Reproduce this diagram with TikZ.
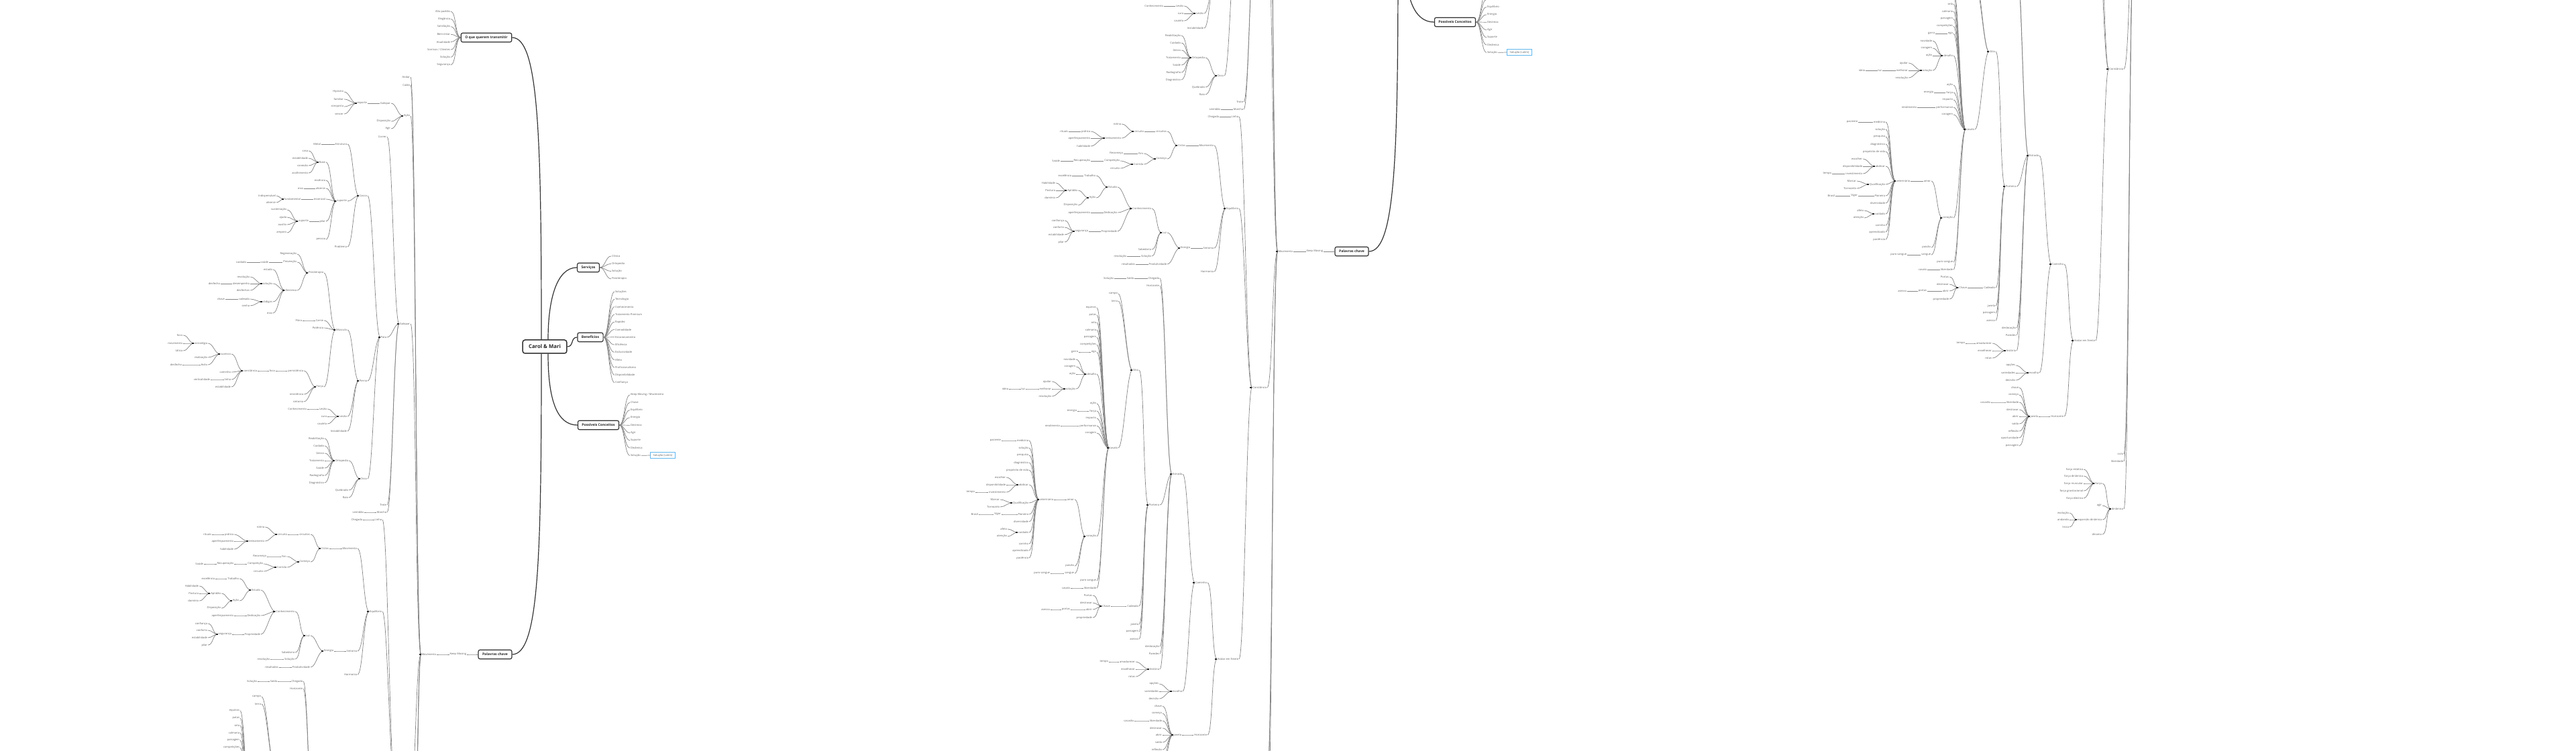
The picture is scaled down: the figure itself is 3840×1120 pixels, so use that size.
\documentclass[tikz,border=0pt]{standalone}
\usepackage{fontspec}
\setmainfont{Open Sans}
\definecolor{lblue}{HTML}{62B8EE}
\tikzset{
 mlf/.style={font=\fontsize{1.15}{1.3}\selectfont, text=black!62, inner xsep=0.1mm, inner ysep=0.05mm, outer sep=0pt},
 mcn/.style={draw=black!48, line width=0.07mm, out=0, in=180, out max distance=0.8mm, in max distance=0.8mm},
 mmain/.style={draw=black!80, line width=0.12mm},
 mhub/.style={draw=black!85, line width=0.13mm},
 mbox/.style={draw=black!80, line width=0.12mm, rounded corners=0.25mm, fill=white, font=\fontsize{1.45}{1.7}\selectfont\bfseries, text=black!85, inner xsep=0.6mm, inner ysep=0.2mm, minimum height=1.35mm},
 mroot/.style={mbox, line width=0.15mm, font=\fontsize{2.2}{2.6}\selectfont\bfseries, inner xsep=0.9mm, minimum height=2mm, rounded corners=0.35mm},
 mlat/.style={mlf, draw=lblue, line width=0.08mm, inner xsep=0.4mm, inner ysep=0.25mm}
}
\newcommand\vt[2]{\ifdim #1pt>\ylo pt\relax\ifdim #1pt<\yhi pt\relax #2\else\phantom{#2}\fi\else\phantom{#2}\fi}
\newcommand\kids[3]{\foreach \nm/\yy/\tx in {#3}{\node[mlf,anchor=east] (\nm) at (#2,\yy) {\vt{\yy}{\tx}}; \draw[mcn] (\nm.east) to (#1.west);}}
\newcommand\hub[1]{\foreach \hh in {#1}{\draw[mhub] (\hh.west) -- ++(-3,0);}}
\newcommand\drawmap{%
\node[mroot] (root) at (812,517) {\vt{517}{Carol \& Mari}};
\node[mbox] (serv) at (877,399) {\vt{399}{Serviços}};
\node[mbox] (benef) at (880,503) {\vt{503}{Benefícios}};
\node[mbox] (poss) at (892,634) {\vt{634}{Possíveis Conceitos}};
\node[mbox] (oque) at (725,56) {\vt{56}{O que querem transmitir}};
\node[mbox] (pal) at (738,976) {\vt{976}{Palavras chave}};
\draw[mmain] ([xshift=0.5mm]root.north) to[out=90,in=180,out distance=6mm,in distance=3mm] (serv.west);
\draw[mmain] (root.east) to[out=0,in=180,out distance=1mm,in distance=1mm] (benef.west);
\draw[mmain] ([xshift=0.5mm]root.south) to[out=-90,in=180,out distance=7mm,in distance=3mm] (poss.west);
\draw[mmain] ([xshift=-0.5mm]root.north) to[out=90,in=0,out distance=30mm,in distance=4mm] (oque.east);
\draw[mmain] ([xshift=-0.5mm]root.south) to[out=-90,in=0,out distance=30mm,in distance=4mm] (pal.east);
\foreach \nm/\tx [count=\i from 0] in {s1/Clínica,s2/Ortopedia,s3/Solução,s4/Fisioterapia}{\pgfmathsetmacro\yc{382+11.3*\i}\node[mlf,anchor=west] (\nm) at (911,\yc) {\vt{\yc}{\tx}}; \draw[mcn] (serv.east) to (\nm.west);}
\foreach \nm/\tx [count=\i from 0] in {b1/Soluções,b2/Tecnologia,b3/Conhecimento,b4/Tratamento Premium,b5/Rapidez,b6/Comodidade,b7/Estacionamento,b8/Eficiência,b9/Exclusividade,b10/Afeto,b11/Profissionalismo,b12/Disponibilidade,b13/Confiança}{\pgfmathsetmacro\yc{435+11.3*\i}\node[mlf,anchor=west] (\nm) at (916,\yc) {\vt{\yc}{\tx}}; \draw[mcn] (benef.east) to (\nm.west);}
\foreach \nm/\tx [count=\i from 0] in {p1/{Keep Moving / Movimento},p2/Chave,p3/Equilíbrio,p4/Energia,p5/Destreza,p6/Agir,p7/Suporte,p8/Dinâmica,p9/Solução}{\pgfmathsetmacro\yc{589+11.3*\i}\node[mlf,anchor=west] (\nm) at (939,\yc) {\vt{\yc}{\tx}}; \draw[mcn] (poss.east) to (\nm.west);}
\node[mlat] (latim) at (988,679) {\vt{679}{Solução (Latim)}};
\draw[mcn] (p9.east) -- (latim.west);
\foreach \nm/\tx [count=\i from 0] in {oq1/Alto padrão,oq2/Elegância,oq3/Satisfação,oq4/Bem-estar,oq5/Atualidade,oq6/{Sorrisos / Clientes},oq7/Solução,oq8/Segurança}{\pgfmathsetmacro\yc{17+11.4*\i}\node[mlf,anchor=east] (\nm) at (672,\yc) {\vt{\yc}{\tx}}; \draw[mcn] (\nm.east) to (oque.west);}
\kids{pal}{696}{keep/976/Keep Moving}
\kids{keep}{651}{mov/976/Movimento}
\kids{mov}{612}{andar/115/Andar, caido/127/Caído, acao/173/Ação, gal/483/Galopar, const/1179/Constância, ciclo/1753/ciclo, liber3/1764/liberdade, dinam/1835/dinâmica}
\kids{acao}{583}{galb/154/Galopar, disp1/181/Disposição, agir1/192/Agir}
\kids{galb}{548}{esp/154/esporte}
\kids{esp}{513}{hip/137/Hipismo, famil/148/familiar, conq/159/conquista, venc/170/vencer}
\kids{gal}{577}{corr/204/Correr, pata/503/Pata, trote/753/Trote, marcha/764/Marcha}
\kids{marcha}{543}{lent/764/Lentidão}
\kids{pata}{548}{casco/292/Casco, perna/568/Perna, osso/714/Osso}
\kids{casco}{518}{estr/215/Estrutura, sup/300/suporte, probl/368/Problema}
\kids{estr}{479}{metal/215/Metal}
\kids{sup}{486}{base/242/Base, essn/269/essência, alic/281/alicerce, essl/297/essencial, pilar/330/pilar, pess/357/pessoa}
\kids{base}{460}{casa/225/casa, estab1/236/estabilidade, conex/247/conexão, acolh/258/acolhimento}
\kids{alic}{453}{eixo1/281/eixo}
\kids{essl}{449}{fund/297/fundamental}
\kids{fund}{412}{indisp/292/Indispensável, alic2/302/alicerce}
\kids{pilar}{461}{sup2/330/suporte}
\kids{sup2}{428}{sust/313/sustentação, ajuda/324/ajuda, auxil/335/auxílio, ampa/347/amparo}
\kids{perna}{518}{musc/492/Músculo, lesao/621/Lesão, instab/643/Instabilidade}
\kids{musc}{483}{fisio/407/Fisioterapia, carne/478/Carne, pot/489/Potência, forca/577/Força}
\kids{carne}{451}{fibra/478/Fibra}
\kids{fisio}{443}{regen/379/Regeneração, prev/391/Prevenção, destr/433/Destreza}
\kids{prev}{401}{saude1/391/saúde}
\kids{saude1}{368}{cuid1/391/cuidado}
\kids{destr}{407}{estado/402/estado, sol1/423/solução, cod/450/códigos, eixo2/467/eixo}
\kids{sol1}{373}{revol/413/revolução, desemp/423/desempenho, desfs/433/desfechos}
\kids{desemp}{329}{desf/423/desfecho}
\kids{cod}{373}{cad1/446/cadeado, senha/456/senha}
\kids{cad1}{336}{chave1/446/chave}
\kids{forca}{453}{persist/553/persistência, resist/588/resistência, sinton1/599/sintonia}
\kids{persist}{411}{foco1/553/foco}
\kids{foco1}{384}{const1/553/constância}
\kids{const1}{345}{suc/528/sucesso, cam1/555/caminho, linha1/566/linha, estab2/577/estabilidade}
\kids{suc}{310}{estrat/512/estratégia, realiz/533/realização, exito/544/êxito}
\kids{estrat}{273}{foco2/500/foco, movim/512/movimento, tatica/523/tática}
\kids{exito}{272}{desf2/544/desfecho}
\kids{linha1}{314}{vert/566/verticalidade}
\kids{lesao}{488}{lesao2/610/Lesão, cura/621/cura, caut/632/cautela}
\kids{lesao2}{458}{conh1/610/Conhecimento}
\kids{osso}{520}{orto/687/Ortopedia, queb/731/Quebrado, raio/742/Raio}
\kids{orto}{484}{reab/654/Reabilitação, cuid3/665/Cuidado, gesso/676/Gesso, trat/687/Tratamento, saude3/698/Saúde, radio/709/Radiografia, diag/720/Diagnóstico}
\kids{const}{570}{linha/775/Linha, equil/912/Equilíbrio, andar2/1584/Andar em frente}
\kids{linha}{541}{cheg1/775/Chegada}
\kids{equil}{533}{mov2/818/Movimento, sinton/971/Sintonia, harm/1006/Harmonia}
\kids{mov2}{491}{ciclos/818/Ciclos}
\kids{ciclos}{463}{circs/797/circuitos, comeco/838/Começo}
\kids{circs}{429}{circ/797/circuito}
\kids{circ}{395}{rotina/786/rotina, trein/807/treinamento}
\kids{trein}{349}{prat/797/prática, aperf1/807/aperfeiçoamento, habil1/819/habilidade}
\kids{prat}{316}{ritu/797/rituais}
\kids{comeco}{428}{fim/830/Fim, corrida/846/Corrida}
\kids{fim}{398}{recom/830/Recomeço}
\kids{corrida}{393}{compet/841/Competição, circ2/852/circuito}
\kids{compet}{349}{recup/841/Recuperação}
\kids{recup}{304}{saude2/841/Saúde}
\kids{sinton}{498}{energia/971/Energia}
\kids{energia}{463}{luz/948/Luz, produt/995/Produtividade}
\kids{produt}{416}{result/995/resultados}
\kids{luz}{440}{conh2/912/Conhecimento, sabed/973/Sabedoria, sol2/983/Solução}
\kids{sol2}{403}{resol1/983/resolução}
\kids{conh2}{389}{estudo/880/Estudo, dedic/918/Dedicação, propr/946/Propriedade}
\kids{estudo}{357}{trab/863/Trabalho, acao2/896/Ação}
\kids{trab}{321}{excel/863/excelência}
\kids{acao2}{330}{aptid/885/Aptidão, disp2/907/Disposição}
\kids{aptid}{297}{habil2/874/Habilidade, postura/885/Postura, domin/896/domínio}
\kids{dedic}{349}{aperf2/918/aperfeiçoamento}
\kids{propr}{346}{segur/946/segurança}
\kids{segur}{310}{confi/930/confiança, confo/940/conforto, estab3/951/estabilidade, pilar2/962/pilar}
\kids{andar2}{523}{caminho/1470/Caminho, horiz/1697/Horizonte}
\kids{caminho}{486}{estrada/1308/Estrada, escolha/1632/escolha}
\kids{estrada}{452}{cheg2/1016/Chegada, horiz2/1027/Horizonte, porteira/1354/Porteira, desloc/1565/deslocação, pared/1576/Paredes, hist/1599/história}
\kids{cheg2}{414}{saida1/1016/Saída}
\kids{saida1}{384}{sol3/1016/Solução}
\kids{porteira}{421}{sitio/1153/Sítio, cadeado/1505/Cadeado, janela1/1532/janela, pais1/1543/paisagem, acesso1/1554/acesso}
\kids{sitio}{390}{campo/1039/campo, terra/1050/terra, cavalo/1269/cavalo}
\kids{cavalo}{358}{equin/1060/equinos, patas/1071/patas, sela/1082/sela, calm/1093/calmaria, pais2/1104/paisagem, compets/1115/competições, ego/1126/ego, desafio/1159/desafio, acao3/1203/ação, forca2/1214/força, impacto/1225/impacto, perf/1236/performance, corag1/1247/coragem, coracao/1401/coração, purosg/1467/puro sangue, liber1/1478/liberdade}
\kids{ego}{331}{garra/1126/garra}
\kids{desafio}{327}{novid/1137/novidade, corag2/1148/coragem, acao4/1159/ação, sol4/1181/solução}
\kids{sol4}{291}{ajudar/1170/ajudar, melh/1181/melhorar, resol2/1192/resolução}
\kids{melh}{252}{luz2/1181/luz}
\kids{luz2}{227}{ideia/1181/ideia}
\kids{forca2}{329}{energ2/1214/energia}
\kids{perf}{304}{rend/1236/rendimento}
\kids{coracao}{325}{amor/1346/amor, paixao/1445/paixão, sangue/1456/sangue}
\kids{sangue}{289}{purosg2/1456/puro sangue}
\kids{liber1}{319}{cav2/1478/cavalo}
\kids{amor}{294}{vet/1346/veterinária}
\kids{vet}{257}{medic/1258/medicina, sol5/1269/solução, pesq/1280/pesquisa, diag2/1291/diagnóstico, propos/1302/propósito de vida, abdic/1324/abdicar, qualif/1351/Qualificação, pion/1368/Pioneira, divers/1379/diversidade, cuid2/1395/cuidado, carinho/1412/carinho, aprend/1422/aprendizado, pacien/1433/paciência}
\kids{medic}{216}{pac/1258/paciente}
\kids{abdic}{223}{escolh/1313/escolher, dispon/1324/disponibilidade, invest/1335/investimento}
\kids{invest}{177}{tempo1/1335/tempo}
\kids{qualif}{214}{marcar/1346/Marcar, tornoz/1357/Tornozelo}
\kids{pion}{216}{vigor/1368/Vigor}
\kids{vigor}{182}{brasil/1368/Brasil}
\kids{cuid2}{225}{afeto/1390/afeto, atenc/1401/atenção}
\kids{cadeado}{379}{chave2/1505/Chave}
\kids{chave2}{352}{portas1/1489/Portas, destr1/1500/destravar, abrir1/1510/abrir, propr2/1522/propriedade}
\kids{abrir1}{319}{portas2/1510/portas}
\kids{portas2}{289}{acesso2/1510/acesso}
\kids{hist}{416}{amad/1588/amadurecer, envel/1599/envelhecer, rotas/1610/rotas}
\kids{amad}{376}{tempo2/1588/tempo}
\kids{escolha}{451}{opcoes/1621/opções, varied/1632/variedades, decis/1643/decisão}
\kids{horiz}{485}{janela2/1697/janela}
\kids{janela2}{456}{chave3/1654/chave, comeco2/1665/começo, liber2/1676/liberdade, destr2/1687/destravar, abrir2/1697/abrir, saida2/1708/saída, reflex/1719/reflexão, oport/1729/oportunidade, passag/1741/passagem}
\kids{liber2}{414}{casarao/1676/casarão}
\kids{dinam}{580}{forca3/1797/força, agir2/1830/agir, expan/1851/expansão dinâmica, dinamo/1873/dínamo}
\kids{forca3}{552}{fest/1776/força estática, fdin/1786/força dinâmica, fmusc/1797/força muscular, fgrav/1808/força gravitacional, felas/1819/força elástica}
\kids{expan}{531}{evol/1841/evolução, andando/1851/andando, troca/1862/troca}
\hub{mov,acao,esp,gal,pata,casco,sup,base,fund,sup2,perna,musc,fisio,destr,sol1,cod,forca,const1,suc,estrat,lesao,osso,orto,const,equil,ciclos,circ,trein,comeco,corrida,energia,luz,conh2,estudo,acao2,aptid,segur,andar2,caminho,estrada,porteira,sitio,cavalo,desafio,sol4,coracao,vet,abdic,qualif,cuid2,chave2,hist,escolha,janela2,dinam,forca3,expan}
}
\begin{document}
\begin{tikzpicture}[x=0.1mm,y=-0.1mm]
\useasboundingbox (0,0) rectangle (3840,1120);
\fill[white] (0,0) rectangle (3840,1120);
\begin{scope}
\clip (0,0) rectangle (1277,1120);
\def\ylo{-4}\def\yhi{1124}
\begin{scope}[name prefix=a-]\drawmap\end{scope}
\end{scope}
\begin{scope}
\clip (1277,0) rectangle (2554,1120);
\def\ylo{597}\def\yhi{1725}
\begin{scope}[shift={(1277,-601)},name prefix=b-]\drawmap\end{scope}
\end{scope}
\begin{scope}
\clip (2554,0) rectangle (3840,1120);
\def\ylo{1072}\def\yhi{2200}
\begin{scope}[shift={(2554,-1076)},name prefix=c-]\drawmap\end{scope}
\end{scope}
\end{tikzpicture}
\end{document}
